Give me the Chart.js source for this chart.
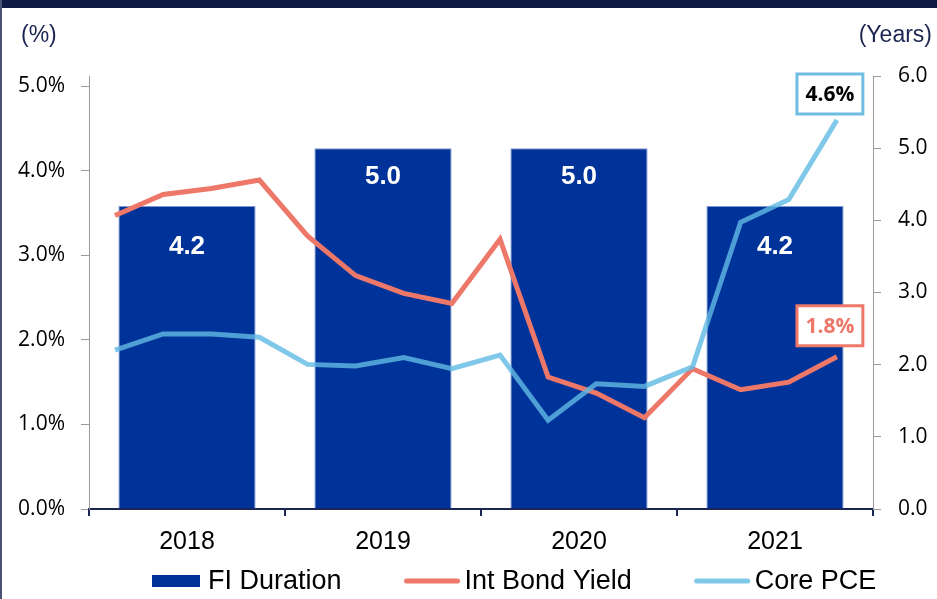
<!DOCTYPE html>
<html>
<head>
<meta charset="utf-8">
<title>FI Duration vs yields</title>
<script src="https://cdn.jsdelivr.net/npm/chart.js@4.4.0/dist/chart.umd.min.js"></script>
<style>
  html, body { margin: 0; padding: 0; background: #fff; }
  #chart-div { position: relative; width: 937px; height: 599px; overflow: hidden; }
  #top-band { position: absolute; left: 0; top: 0; width: 937px; height: 8px; background: #0f1a44; }
  #left-rule { position: absolute; left: 0; top: 0; width: 2px; height: 599px; background: #4a5375; }
</style>
</head>
<body>
<div id="chart-div">
  <canvas id="myChart"></canvas>
  <div id="top-band"></div>
  <div id="left-rule"></div>
</div>
<script>
// Years on the category axis, one bar each
const years = ['2018', '2019', '2020', '2021']

// FI duration in years (right axis)
const fiDuration = [4.2, 5.0, 5.0, 4.2]

// Quarter ends behind the two lines
const quarters = ['1Q18', '2Q18', '3Q18', '4Q18', '1Q19', '2Q19', '3Q19', '4Q19',
                  '1Q20', '2Q20', '3Q20', '4Q20', '1Q21', '2Q21', '3Q21', '4Q21']

// Intermediate bond yield, % (left axis)
const bondYield = [3.47, 3.72, 3.79, 3.89, 3.23, 2.76, 2.55, 2.43,
                   3.19, 1.56, 1.37, 1.08, 1.66, 1.41, 1.50, 1.8]

// Core PCE, % (left axis)
const corePce = [1.88, 2.07, 2.07, 2.03, 1.71, 1.69, 1.79, 1.66,
                 1.82, 1.05, 1.48, 1.45, 1.68, 3.39, 3.66, 4.6]

// Tick values for both y axes
const pctTicks = [0, 1, 2, 3, 4, 5]
const yearTicks = [0, 1, 2, 3, 4, 5, 6]

const NAVY = '#1b2552'
const BAR_BLUE = '#003399'
const RED = '#ED7768'
const LIGHT_BLUE = 'rgba(96,186,228,0.8)'
const ARIAL = '"Liberation Sans", Arial, sans-serif'
const CALIBRI = '"Open Sans", "Noto Sans", sans-serif'

// Turn a quarterly series into points on the hidden quarter axis
function toPoints(series){
    return quarters.map(function(q, i){ return { x: i, y: series[i] } })
}

// "(%)" and "(Years)" above the axes
const axisUnits = {
    id: 'axisUnits',
    afterDraw(chart){
        const ctx = chart.ctx
        ctx.save()
        ctx.font = '23px ' + ARIAL
        ctx.fillStyle = NAVY
        ctx.textBaseline = 'middle'
        ctx.textAlign = 'left'
        ctx.fillText('(%)', 21, 36)
        ctx.textAlign = 'right'
        ctx.fillText('(Years)', chart.width - 5, 36)
        ctx.restore()
    }
}

// Values inside bars and boxed last values for the lines
const valueLabels = {
    id: 'valueLabels',
    afterDatasetsDraw(chart, args, opts){
        const ctx = chart.ctx
        ctx.save()

        // Bar values
        ctx.font = 'bold 26px ' + ARIAL
        ctx.fillStyle = '#fff'
        ctx.textAlign = 'center'
        ctx.textBaseline = 'middle'
        const bars = chart.getDatasetMeta(0).data
        for (let i = 0; i < bars.length; i++){
            ctx.fillText(fiDuration[i].toFixed(1), bars[i].x, bars[i].y + opts.barOffsets[i])
        }

        // Last value callouts
        ctx.font = 'bold 21px ' + CALIBRI
        for (let c of opts.callouts){
            const meta = chart.getDatasetMeta(c.dataset)
            const pt = meta.data[meta.data.length - 1]
            const series = chart.data.datasets[c.dataset].data
            const text = series[series.length - 1].y.toFixed(1) + '%'
            const w = ctx.measureText(text).width + 17
            const h = 40
            const cx = pt.x - 7
            const cy = pt.y - c.lift
            ctx.fillStyle = '#fff'
            ctx.fillRect(cx - w / 2, cy - h / 2, w, h)
            ctx.lineWidth = 3
            ctx.strokeStyle = c.border
            ctx.strokeRect(cx - w / 2, cy - h / 2, w, h)
            ctx.fillStyle = c.color
            ctx.fillText(text, cx, cy + 1)
        }
        ctx.restore()
    }
}

// Legend row under the year labels
const bottomLegend = {
    id: 'bottomLegend',
    afterDraw(chart, args, opts){
        const ctx = chart.ctx
        ctx.save()
        ctx.font = '27px ' + ARIAL
        ctx.textBaseline = 'middle'
        ctx.textAlign = 'left'
        let x = chart.chartArea.left + opts.indent
        const y = opts.y
        chart.data.datasets.forEach(function(ds){
            if (ds.type === 'bar'){
                ctx.fillStyle = ds.backgroundColor
                ctx.fillRect(x, y - 6, 48, 12)
                x += 48 + 8
            } else {
                ctx.strokeStyle = ds.borderColor
                ctx.lineWidth = 5
                ctx.lineCap = 'round'
                ctx.beginPath()
                ctx.moveTo(x + 2, y)
                ctx.lineTo(x + 53, y)
                ctx.stroke()
                x += 55 + 5
            }
            ctx.fillStyle = '#000'
            ctx.fillText(ds.label, x, y + 1)
            x += ctx.measureText(ds.label).width + opts.gap
        })
        ctx.restore()
    }
}

const data = {
    labels: years,
    datasets: [
        {
            type: 'bar',
            label: 'FI Duration',
            data: fiDuration,
            backgroundColor: BAR_BLUE,
            borderColor: '#7f97d2',
            borderWidth: 1,
            barPercentage: 0.7,
            categoryPercentage: 1.0,
            grouped: false,
            xAxisID: 'x',
            yAxisID: 'y1',
            order: 3
        },
        {
            type: 'line',
            label: 'Int Bond Yield',
            data: toPoints(bondYield),
            borderColor: RED,
            backgroundColor: RED,
            borderWidth: 5,
            pointRadius: 0,
            tension: 0,
            xAxisID: 'xq',
            yAxisID: 'y',
            order: 2
        },
        {
            type: 'line',
            label: 'Core PCE',
            data: toPoints(corePce),
            borderColor: LIGHT_BLUE,
            backgroundColor: LIGHT_BLUE,
            borderWidth: 5,
            pointRadius: 0,
            tension: 0,
            xAxisID: 'xq',
            yAxisID: 'y',
            order: 1
        }
    ]
}

const config = {
    type: 'bar',
    data: data,
    plugins: [axisUnits, valueLabels, bottomLegend],
    options: {
        responsive: true,
        maintainAspectRatio: false,
        animation: false,
        layout: { padding: { top: 76, bottom: 40, left: 0, right: 0 } },
        plugins: {
            legend: { display: false },
            tooltip: { enabled: false },
            valueLabels: {
                barOffsets: [41, 29, 29, 41],
                callouts: [
                    { dataset: 2, border: '#6fbde3', color: '#000', lift: 26 },
                    { dataset: 1, border: RED, color: RED, lift: 31 }
                ]
            },
            bottomLegend: { indent: 63, gap: 63, y: 581 }
        },
        scales: {
            x: {
                type: 'category',
                position: 'bottom',
                offset: true,
                grid: { offset: true, drawOnChartArea: false, drawTicks: true, tickLength: 7, color: NAVY, lineWidth: 2 },
                border: { display: true, color: NAVY, width: 2 },
                ticks: { color: '#000', font: { family: ARIAL, size: 25 }, padding: 11 },
                afterFit(scale){ scale.height = 50 }
            },
            xq: {
                type: 'linear',
                display: false,
                offset: false,
                grid: { offset: false },
                min: -0.54,
                max: 15.75
            },
            y: {
                position: 'left',
                min: 0,
                max: 5.12,
                afterBuildTicks(scale){ scale.ticks = pctTicks.map(function(v){ return { value: v } }) },
                ticks: {
                    color: '#000',
                    font: { family: CALIBRI, size: 21 },
                    padding: 16,
                    callback: function(v){ return v.toFixed(1) + '%' }
                },
                grid: { drawOnChartArea: false, drawTicks: true, tickLength: 8, color: '#9a9a9a' },
                border: { display: true, color: '#9a9a9a', width: 1 },
                afterFit(scale){ scale.width = 89 }
            },
            y1: {
                position: 'right',
                min: 0,
                max: 6,
                afterBuildTicks(scale){ scale.ticks = yearTicks.map(function(v){ return { value: v } }) },
                ticks: {
                    color: '#000',
                    font: { family: CALIBRI, size: 21 },
                    padding: 17,
                    callback: function(v){ return v.toFixed(1) }
                },
                grid: { drawOnChartArea: false, drawTicks: true, tickLength: 8, color: '#9a9a9a' },
                border: { display: true, color: '#9a9a9a', width: 1 },
                afterFit(scale){ scale.width = 64 }
            }
        }
    }
}

// Main
document.addEventListener('DOMContentLoaded', function(){
    new Chart(document.getElementById('myChart'), config)
})
</script>
</body>
</html>
